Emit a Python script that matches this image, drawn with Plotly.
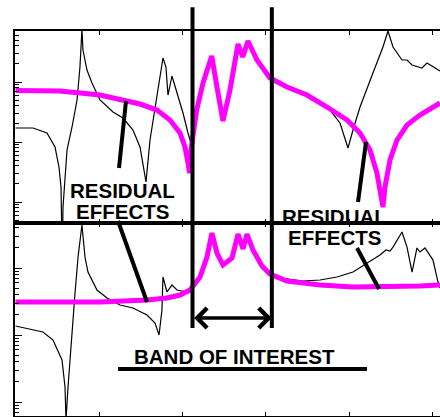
import plotly.graph_objects as go

# ---------------- data (x in frequency units, y as log10 magnitude) ----------------
# Upper panel - thick magenta (reduced model)
top_mag_x = [0.0, 0.533, 1.012, 1.311, 1.491, 1.695, 1.850, 1.970, 2.030, 2.066, 2.084,
             2.102, 2.126, 2.170, 2.246, 2.350, 2.413, 2.485, 2.569, 2.665, 2.721, 2.784,
             2.892, 3.048, 3.251, 3.491, 3.731, 3.970, 4.126, 4.246, 4.329, 4.389, 4.401,
             4.425, 4.485, 4.569, 4.689, 4.844, 5.000, 5.084]
top_mag_logy = [1.858, 1.850, 1.783, 1.700, 1.633, 1.533, 1.367, 1.150, 0.917, 0.650, 0.483,
                0.867, 1.117, 1.533, 1.983, 2.433, 1.917, 1.350, 1.867, 2.633, 2.417, 2.683,
                2.367, 2.067, 1.917, 1.783, 1.583, 1.367, 1.150, 0.867, 0.483, 0.033, -0.083,
                0.250, 0.700, 1.033, 1.283, 1.450, 1.583, 1.650]

# Upper panel - thin black (full model), left and right of the band
top_blk_x = [0.0, 0.210, 0.377, 0.473, 0.521, 0.545, 0.560, 0.569, 0.617, 0.677, 0.737,
             0.772, 0.796, 0.808, 0.856, 0.916, 1.012, 1.168, 1.287, 1.407, 1.491, 1.563,
             1.611, 1.695, 1.766, 1.802, 1.826, 1.874, 1.934, 2.006, 2.066, 2.114,
             None,
             3.647, 3.766, 3.886, 3.982, 4.042, 4.126, 4.281, 4.401, 4.461, 4.521, 4.629,
             4.689, 4.749, 4.868, 4.928, 5.000, 5.084]
top_blk_logy = [1.233, 1.233, 1.150, 0.917, 0.583, 0.250, -0.967, -0.083, 0.867, 1.250, 1.700,
                2.250, 2.880, 2.533, 2.200, 1.983, 1.700, 1.500, 1.400, 1.200, 0.917, 0.333,
                1.033, 1.817, 2.400, 2.250, 1.783, 2.100, 1.817, 1.483, 1.150, 0.917,
                None,
                1.650, 1.533, 1.317, 0.900, 1.200, 1.583, 2.150, 2.583, 2.850, 2.583, 2.367,
                2.367, 2.283, 2.233, 2.317, 2.250, 2.183]

# Lower panel - thick magenta
bot_mag_x = [0.0, 1.012, 1.575, 1.814, 1.970, 2.090, 2.210, 2.293, 2.353, 2.413, 2.485,
             2.593, 2.665, 2.725, 2.772, 2.844, 2.952, 3.048, 3.251, 3.647, 4.042, 4.365,
             4.844, 5.084]
bot_mag_logy = [1.493, 1.493, 1.522, 1.552, 1.597, 1.672, 1.866, 2.164, 2.522, 2.224, 2.045,
                2.149, 2.507, 2.284, 2.507, 2.269, 2.030, 1.910, 1.806, 1.746, 1.716, 1.716,
                1.731, 1.746]

# Lower panel - thin black
bot_blk_x = [0.0, 0.329, 0.449, 0.557, 0.593, 0.605, 0.629, 0.677, 0.713, 0.749, 0.796,
             0.832, 0.868, 0.976, 1.096, 1.251, 1.407, 1.575, 1.671, 1.719, 1.754, 1.766,
             1.814, 1.874, 1.934, 2.054, 2.114,
             None,
             3.084, 3.443, 3.647, 3.850, 4.042, 4.210, 4.365, 4.437, 4.485, 4.521, 4.629,
             4.689, 4.749, 4.808, 4.844, 4.904, 5.000, 5.060, 5.084]
bot_blk_logy = [1.134, 1.045, 0.925, 0.627, 0.224, -0.269, 0.224, 1.119, 1.627, 2.164, 2.642,
                2.164, 1.940, 1.672, 1.552, 1.448, 1.403, 1.299, 1.179, 1.000, 1.373, 1.866,
                1.642, 1.746, 1.672, 1.642, 1.701,
                None,
                1.866, 1.806, 1.821, 1.866, 1.940, 2.075, 2.194, 2.269, 2.254, 2.313, 2.537,
                2.313, 1.940, 2.299, 2.239, 2.299, 2.119, 1.791, 1.700]

band_lo, band_hi = 2.12, 3.07

labels = {
    "band": "BAND OF INTEREST",
    "res": "RESIDUAL",
    "eff": "EFFECTS",
}


def lin(v):
    return [None if a is None else 10 ** a for a in v]


MAG = "#FF00FF"
fig = go.Figure()
fig.add_trace(go.Scatter(x=top_blk_x, y=lin(top_blk_logy), xaxis="x2", yaxis="y2",
                         mode="lines", line=dict(color="black", width=1.2), connectgaps=False))
fig.add_trace(go.Scatter(x=top_mag_x, y=lin(top_mag_logy), xaxis="x2", yaxis="y2",
                         mode="lines", line=dict(color=MAG, width=5)))
fig.add_trace(go.Scatter(x=bot_blk_x, y=lin(bot_blk_logy), xaxis="x", yaxis="y",
                         mode="lines", line=dict(color="black", width=1.2), connectgaps=False))
fig.add_trace(go.Scatter(x=bot_mag_x, y=lin(bot_mag_logy), xaxis="x", yaxis="y",
                         mode="lines", line=dict(color=MAG, width=5)))

xr = [-0.006, 5.084]
split = 193 / 385

xcommon = dict(range=xr, showline=True, linecolor="black", linewidth=1.5, mirror="ticks",
               ticks="inside", ticklen=4, tickcolor="black", dtick=1, tick0=0,
               showticklabels=False, showgrid=False, zeroline=False)
ycommon = dict(type="log", showline=True, linecolor="black", linewidth=1.5,
               ticks="inside", ticklen=7, tickcolor="black", dtick=1,
               showticklabels=False, showgrid=False, zeroline=False,
               minor=dict(ticks="inside", ticklen=4, tickcolor="black", dtick="D1",
                          showgrid=False))
yright = dict(type="log", showline=False, ticks="inside", ticklen=4, tickcolor="black",
              dtick=1, showticklabels=False, showgrid=False, zeroline=False, side="right")

fig.update_layout(
    width=440, height=417,
    margin=dict(l=15, r=0, t=31, b=1),
    paper_bgcolor="white", plot_bgcolor="white",
    showlegend=False,
    xaxis=dict(domain=[0, 1], anchor="y", **xcommon),
    yaxis=dict(domain=[0, split], anchor="x", range=[-0.209, 2.672], **ycommon),
    xaxis2=dict(domain=[0, 1], anchor="y2", **xcommon),
    yaxis2=dict(domain=[split, 1], anchor="x2", range=[-0.35, 2.85], **ycommon),
    yaxis3=dict(overlaying="y2", anchor="x2", range=[-0.35, 2.85], **yright),
    yaxis4=dict(overlaying="y", anchor="x", range=[-0.209, 2.672], **yright),
)

# band-of-interest vertical bars
for xb in (band_lo, band_hi):
    fig.add_shape(type="line", xref="x", yref="paper", x0=xb, x1=xb, y0=0.2286, y1=1.062,
                  line=dict(color="black", width=4))

# double arrow between the bars
fig.add_annotation(x=band_hi, y=0.2545, xref="x", yref="paper",
                   ax=band_lo, ay=0, axref="x", ayref="pixel", text="",
                   showarrow=True, arrowhead=4, startarrowhead=4, arrowside="end+start",
                   arrowwidth=3.5, arrowsize=1.1, startarrowsize=1.1, arrowcolor="black",
                   standoff=0, startstandoff=0)

# pointer lines and underline (paper coords)
pointers = [
    (0.2612, 0.8182, 0.2447, 0.6442),
    (0.2424, 0.5065, 0.3106, 0.2961),
    (0.8259, 0.7117, 0.8071, 0.5558),
    (0.8047, 0.4364, 0.8565, 0.3299),
    (0.2424, 0.1221, 0.8282, 0.1221),
]
for x0, y0, x1, y1 in pointers:
    fig.add_shape(type="line", xref="paper", yref="paper", x0=x0, y0=y0, x1=x1, y1=y1,
                  line=dict(color="black", width=4))

font = dict(family="Liberation Sans, Arial, sans-serif", size=20.5, color="black")
texts = [
    (labels["band"], 0.5176, 0.1545),
    (labels["res"], 0.2541, 0.5870),
    (labels["eff"], 0.2529, 0.5312),
    (labels["res"], 0.7506, 0.5182),
    (labels["eff"], 0.7529, 0.4636),
]
for t, x, y in texts:
    fig.add_annotation(text="<b>" + t + "</b>", x=x, y=y, xref="paper", yref="paper",
                       showarrow=False, xanchor="center", yanchor="middle", font=font)

fig.write_html("out.html", config={"displayModeBar": False},
               post_script="document.body.style.margin='0';document.body.style.overflow='hidden';")
